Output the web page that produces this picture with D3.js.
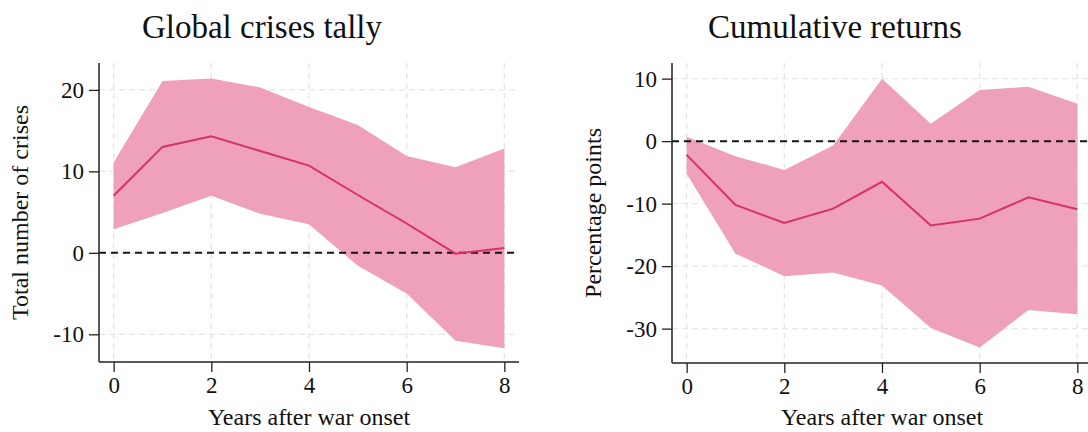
<!DOCTYPE html>
<html>
<head>
<meta charset="utf-8">
<script src="https://cdn.jsdelivr.net/npm/d3@7"></script>
<style>
  body { margin: 0; background: #fff; }
  svg text { font-family: "Liberation Serif", "DejaVu Serif", serif; fill: #111; }
</style>
</head>
<body>
<svg id="canvas" width="1088" height="432"></svg>
<script>
// years after onset
const years = [0, 1, 2, 3, 4, 5, 6, 7, 8];

// left panel: global crises tally
const crisesMean  = [7.0, 13.0, 14.3, 12.5, 10.7, 7.1, 3.6, -0.1, 0.6];
const crisesUpper = [11.1, 21.1, 21.4, 20.3, 17.9, 15.7, 11.9, 10.5, 12.8];
const crisesLower = [2.9, 4.9, 7.0, 4.8, 3.5, -1.6, -5.0, -10.8, -11.7];

// right panel: cumulative returns
const returnsMean  = [-2.2, -10.2, -13.1, -10.8, -6.5, -13.5, -12.4, -9.0, -10.9];
const returnsUpper = [0.7, -2.4, -4.6, -0.7, 10.0, 2.8, 8.2, 8.7, 6.0];
const returnsLower = [-5.2, -18.0, -21.6, -21.0, -23.1, -29.9, -33.0, -27.0, -27.7];

const xTicks = [0, 2, 4, 6, 8];

let svg = d3.select("#canvas");

let panel = (opt) => {
  let x = d3.scaleLinear().domain([-0.3, 8.3]).range([opt.left, opt.right]);
  let y = d3.scaleLinear().domain(opt.yDomain).range([opt.bottom, opt.top]);
  let g = svg.append("g");

  // grid
  g.selectAll(".vgrid").data(xTicks).enter().append("line")
    .attr("x1", d => x(d)).attr("x2", d => x(d))
    .attr("y1", opt.top).attr("y2", opt.bottom)
    .attr("stroke", "#e6e6e6").attr("stroke-width", 1.3).attr("stroke-dasharray", "6,4");
  g.selectAll(".hgrid").data(opt.yTicks).enter().append("line")
    .attr("x1", opt.left).attr("x2", opt.right)
    .attr("y1", d => y(d)).attr("y2", d => y(d))
    .attr("stroke", "#e6e6e6").attr("stroke-width", 1.3).attr("stroke-dasharray", "6,4");

  // confidence band
  let area = d3.area()
    .x((d, i) => x(years[i]))
    .y0((d, i) => y(opt.lower[i]))
    .y1((d, i) => y(opt.upper[i]));
  g.append("path").datum(years).attr("d", area).attr("fill", "#efa0ba");

  // zero line
  g.append("line")
    .attr("x1", opt.left).attr("x2", opt.right)
    .attr("y1", y(0)).attr("y2", y(0))
    .attr("stroke", "#000").attr("stroke-width", 2).attr("stroke-dasharray", "7,5")
    .attr("opacity", 0.9);

  // mean line
  let line = d3.line().x((d, i) => x(years[i])).y(d => y(d));
  g.append("path").datum(opt.mean).attr("d", line)
    .attr("fill", "none").attr("stroke", "#d8306a").attr("stroke-width", 2);

  // axes (plain hyphen for negatives, like the original)
  let fmt = d => String(d);
  let xAxis = d3.axisBottom(x).tickValues(xTicks).tickSize(10).tickPadding(5).tickFormat(fmt);
  let xg = g.append("g").attr("transform", `translate(0,${opt.bottom})`).call(xAxis);
  let yAxis = d3.axisLeft(y).tickValues(opt.yTicks).tickSize(10).tickPadding(5).tickFormat(fmt);
  let yg = g.append("g").attr("transform", `translate(${opt.left},0)`).call(yAxis);
  [xg, yg].forEach(a => {
    a.select(".domain").attr("stroke", "#222").attr("stroke-width", 1.5);
    a.selectAll(".tick line").attr("stroke", "#222").attr("stroke-width", 1.3);
    a.selectAll(".tick text").attr("font-size", 23).attr("font-family", "Liberation Serif").attr("fill", "#111");
  });
  yg.select(".domain").attr("d", `M0,${opt.top}V${opt.bottom}`);
  xg.select(".domain").attr("d", `M${opt.left},0H${opt.right}`);

  // titles and labels
  svg.append("text").attr("x", opt.titleX).attr("y", 38)
    .attr("text-anchor", "middle").attr("font-size", 33).text(opt.title);
  svg.append("text").attr("x", (x(0) + x(8)) / 2).attr("y", 425)
    .attr("text-anchor", "middle").attr("font-size", 24).text("Years after war onset");
  svg.append("text")
    .attr("transform", `translate(${opt.ylabX},${(opt.top + opt.bottom) / 2}) rotate(-90)`)
    .attr("text-anchor", "middle").attr("font-size", 24).text(opt.ylab);
};

panel({
  left: 99, right: 519, top: 63, bottom: 362,
  yDomain: [-13.4, 23.3], yTicks: [-10, 0, 10, 20],
  mean: crisesMean, upper: crisesUpper, lower: crisesLower,
  title: "Global crises tally", titleX: 262,
  ylab: "Total number of crises", ylabX: 28
});

panel({
  left: 672, right: 1092, top: 63, bottom: 363,
  yDomain: [-35.5, 12.5], yTicks: [-30, -20, -10, 0, 10],
  mean: returnsMean, upper: returnsUpper, lower: returnsLower,
  title: "Cumulative returns", titleX: 835,
  ylab: "Percentage points", ylabX: 601
});
</script>
</body>
</html>
